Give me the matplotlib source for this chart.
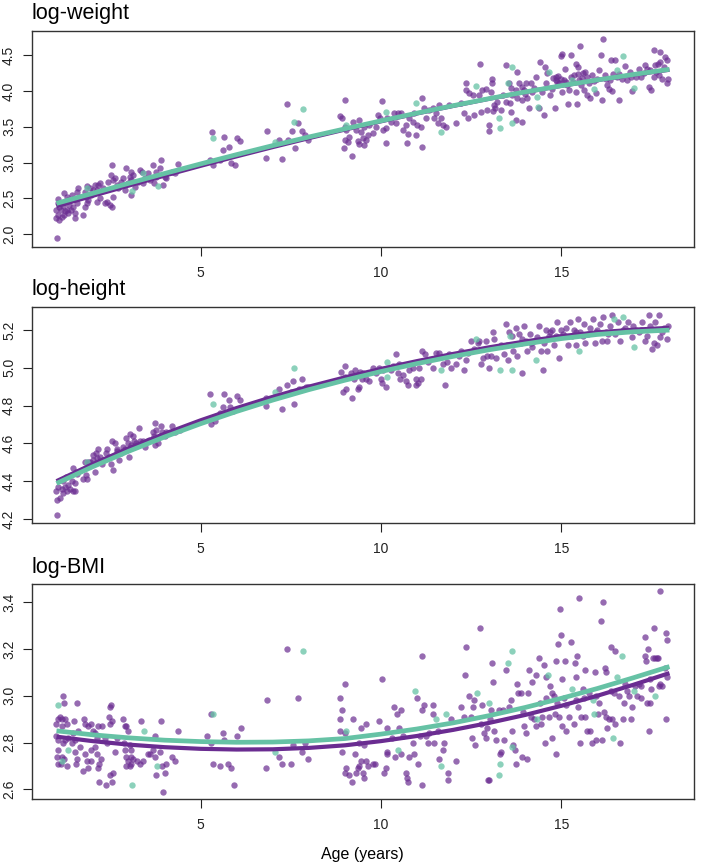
import numpy as np
import matplotlib
matplotlib.use("Agg")
import matplotlib.pyplot as plt

plt.rcParams['font.family'] = ['Liberation Sans', 'DejaVu Sans']

PURPLE = '#6A2C91'
GREEN = '#66C2A5'

# ---- data: (age, value) ----
# log-weight
wt_purple = [
    (1.02, 1.94), (1.05, 2.49), (1.03, 2.43), (1.08, 2.38), (1.00, 2.34), (1.13, 2.34), (1.05, 2.27),
    (0.99, 2.22), (1.08, 2.20), (1.14, 2.24), (1.20, 2.27), (1.24, 2.32), (1.28, 2.34), (1.17, 2.39),
    (1.22, 2.45), (1.20, 2.58), (1.28, 2.52), (1.33, 2.48), (1.36, 2.41), (1.31, 2.29), (1.40, 2.34),
    (1.45, 2.38), (1.51, 2.29), (1.47, 2.49), (1.42, 2.55), (1.51, 2.22), (1.56, 2.43), (1.60, 2.65),
    (1.56, 2.59), (1.65, 2.52), (1.74, 2.27), (1.79, 2.38), (1.81, 2.52), (1.84, 2.43), (1.88, 2.48),
    (1.79, 2.59), (1.84, 2.67), (1.93, 2.64), (1.97, 2.55), (2.02, 2.62), (2.07, 2.69), (2.11, 2.62),
    (2.16, 2.69), (2.21, 2.71), (2.11, 2.45), (2.21, 2.50), (2.30, 2.64), (2.34, 2.43), (2.39, 2.45),
    (2.44, 2.73), (2.48, 2.41), (2.55, 2.38), (2.57, 2.52), (2.51, 2.83), (2.53, 2.97), (2.57, 2.76),
    (2.62, 2.78), (2.67, 2.69), (2.71, 2.64), (2.80, 2.73), (2.85, 2.78), (2.90, 2.62), (2.94, 2.92),
    (2.99, 2.71), (3.04, 2.80), (3.06, 2.87), (3.08, 2.76), (3.06, 2.55), (3.13, 2.83), (3.17, 2.66),
    (3.27, 2.73), (3.31, 2.89), (3.36, 2.87), (3.40, 2.71), (3.45, 2.78), (3.54, 2.85), (3.59, 2.76),
    (3.68, 2.97), (3.71, 2.71), (3.75, 2.87), (3.77, 2.80), (3.87, 2.92), (3.91, 3.04), (3.96, 2.69),
    (4.00, 2.80), (4.05, 2.78), (4.19, 2.87), (4.28, 2.85), (4.37, 2.98),
    (5.25, 3.04), (5.30, 3.43), (5.34, 2.96), (5.53, 3.04), (5.62, 3.17), (5.64, 3.36), (5.78, 3.22),
    (5.85, 3.00), (5.94, 2.97), (6.00, 3.34), (6.10, 3.30),
    (6.84, 3.44), (6.82, 3.07), (7.25, 3.05), (7.39, 3.82), (7.54, 3.44), (7.71, 3.55), (7.81, 3.44),
    (7.88, 3.38), (7.97, 3.31), (7.17, 3.31), (7.42, 3.31), (7.62, 3.20),
    (8.85, 3.65), (8.92, 3.62), (9.00, 3.88), (9.01, 3.50), (9.03, 3.45), (8.99, 3.31), (8.97, 3.21),
    (9.12, 3.36), (9.08, 3.29), (9.20, 3.09), (9.23, 3.57), (9.31, 3.45), (9.35, 3.30), (9.40, 3.59),
    (9.45, 3.43), (9.49, 3.34), (9.54, 3.50), (9.58, 3.31), (9.63, 3.38), (9.54, 3.24), (9.40, 3.26),
    (9.68, 3.52), (9.79, 3.42), (9.86, 3.50), (9.93, 3.66), (9.97, 3.62), (10.03, 3.86), (10.05, 3.45),
    (10.14, 3.48), (10.14, 3.28), (10.18, 3.62), (10.28, 3.57), (10.37, 3.70), (10.41, 3.55),
    (10.46, 3.69), (10.55, 3.70), (10.60, 3.45), (10.69, 3.52), (10.71, 3.28), (10.74, 3.40),
    (10.78, 3.62), (10.88, 3.57), (10.92, 3.69), (10.97, 3.38), (11.01, 3.52), (11.11, 3.50),
    (11.15, 3.91), (11.13, 3.22), (11.20, 3.76), (11.25, 3.62), (11.34, 3.73), (11.43, 3.76),
    (11.48, 3.62), (11.52, 3.69), (11.57, 3.55), (11.61, 3.80), (11.66, 3.62), (11.71, 3.52),
    (11.80, 3.50), (11.89, 3.80), (12.08, 3.55),
    (12.21, 3.83), (12.31, 3.69), (12.35, 4.11), (12.35, 4.01), (12.40, 3.62), (12.44, 3.97),
    (12.54, 3.94), (12.58, 3.66), (12.72, 3.94), (12.74, 4.38), (12.77, 3.71), (12.81, 4.01),
    (12.91, 4.03), (12.95, 3.73), (13.00, 3.52), (13.00, 3.44), (13.04, 3.99), (13.07, 4.11),
    (13.09, 4.17), (13.12, 3.72), (13.14, 3.80), (13.16, 3.77), (13.23, 3.85), (13.32, 3.73),
    (13.37, 3.94), (13.46, 4.36), (13.48, 3.85), (13.55, 4.11), (13.57, 3.83), (13.60, 3.71),
    (13.64, 3.94), (13.74, 3.60), (13.78, 4.27), (13.78, 3.90), (13.83, 4.11), (13.92, 3.57),
    (13.92, 3.87), (13.97, 4.01), (14.01, 4.11), (14.06, 3.90), (14.10, 3.76), (14.15, 4.11),
    (14.20, 3.99), (14.29, 4.19), (14.38, 3.76), (14.40, 4.40), (14.47, 3.99), (14.52, 3.66),
    (14.54, 4.34), (14.57, 4.11), (14.61, 4.25), (14.70, 3.94), (14.75, 4.03), (14.82, 3.76),
    (14.84, 4.20), (14.89, 4.13), (14.94, 4.11), (14.98, 4.49), (15.01, 4.52), (15.03, 3.99),
    (15.07, 4.15), (15.10, 4.31), (15.17, 4.08), (15.21, 4.01), (15.19, 3.82), (15.26, 4.50),
    (15.35, 4.22), (15.40, 3.99), (15.41, 4.38), (15.44, 3.82), (15.47, 4.34), (15.51, 4.63),
    (15.54, 4.08), (15.58, 4.18), (15.63, 4.01), (15.66, 4.27), (15.72, 3.94), (15.77, 4.11),
    (15.81, 3.90), (15.86, 4.22), (15.95, 3.97), (16.00, 4.17), (16.04, 4.29), (16.09, 4.50),
    (16.12, 3.88), (16.15, 4.73), (16.23, 4.17), (16.27, 4.08), (16.32, 4.03), (16.37, 4.44),
    (16.41, 4.00), (16.43, 4.24), (16.50, 4.43), (16.60, 3.87), (16.61, 4.24), (16.69, 4.17),
    (16.78, 4.35), (16.83, 4.15), (16.92, 4.20), (16.95, 4.00), (17.06, 4.20), (17.15, 4.31),
    (17.20, 4.20), (17.32, 4.36), (17.38, 4.31), (17.43, 4.06), (17.50, 4.01), (17.56, 4.58),
    (17.56, 4.20), (17.61, 4.36), (17.68, 4.38), (17.75, 4.55), (17.75, 4.41), (17.80, 4.17),
    (17.89, 4.48), (17.93, 4.43), (17.93, 4.11), (17.96, 4.17),
    (14.78, 4.18), (14.86, 4.15), (14.92, 4.21), (15.00, 4.17), (15.12, 4.12), (15.28, 4.19),
    (15.33, 4.12), (15.45, 4.24), (15.50, 4.15), (15.60, 4.25), (15.70, 4.20), (15.90, 4.14),
    (16.20, 4.23), (16.35, 4.15), (16.55, 4.20), (16.90, 4.27), (17.30, 4.25), (17.45, 4.30),
    (17.62, 4.26), (17.70, 4.22), (17.85, 4.33), (13.90, 4.06), (14.00, 3.96), (14.25, 4.05),
    (13.75, 4.02), (13.60, 4.05),
]
wt_green = [
    (1.84, 2.65), (3.09, 2.60), (3.39, 2.85), (3.81, 2.67), (5.34, 3.34), (7.05, 3.29), (7.58, 3.57),
    (7.85, 3.75), (9.03, 3.52), (10.14, 3.71), (10.97, 3.83), (11.66, 3.43), (12.63, 4.07),
    (13.28, 3.62), (13.31, 3.49), (13.51, 4.11), (13.64, 4.33), (13.64, 3.55), (14.34, 3.92),
    (14.36, 3.78), (14.66, 4.27), (15.30, 4.15), (15.90, 4.03), (16.55, 4.29), (16.72, 4.49),
    (17.01, 4.04),
]

# log-height
ht_purple = [
    (1.02, 4.22), (1.01, 4.30), (1.10, 4.31), (0.99, 4.35), (1.05, 4.37), (1.14, 4.36), (1.19, 4.34),
    (1.24, 4.37), (1.19, 4.40), (1.28, 4.35), (1.33, 4.38), (1.26, 4.42), (1.37, 4.36), (1.42, 4.40),
    (1.47, 4.35), (1.45, 4.47), (1.51, 4.39), (1.54, 4.45), (1.58, 4.44), (1.51, 4.35), (1.74, 4.41),
    (1.79, 4.50), (1.82, 4.43), (1.85, 4.41), (1.88, 4.50), (1.93, 4.50), (2.00, 4.54), (2.02, 4.51),
    (2.07, 4.45), (2.09, 4.55), (2.11, 4.52), (2.16, 4.57), (2.19, 4.50), (2.20, 4.53), (2.25, 4.49),
    (2.30, 4.51), (2.37, 4.55), (2.41, 4.57), (2.46, 4.53), (2.50, 4.49), (2.53, 4.61), (2.57, 4.46),
    (2.62, 4.60), (2.67, 4.57), (2.68, 4.56), (2.74, 4.51), (2.80, 4.55), (2.85, 4.58), (2.90, 4.57),
    (2.94, 4.63), (2.99, 4.60), (3.02, 4.53), (3.05, 4.65), (3.08, 4.59), (3.13, 4.64), (3.15, 4.61),
    (3.20, 4.60), (3.29, 4.68), (3.31, 4.61), (3.39, 4.61), (3.45, 4.58), (3.50, 4.61), (3.57, 4.62),
    (3.68, 4.66), (3.70, 4.64), (3.73, 4.71), (3.73, 4.59), (3.77, 4.67), (3.82, 4.60), (3.87, 4.64),
    (3.91, 4.69), (3.94, 4.66), (4.00, 4.64), (4.05, 4.66), (4.19, 4.69), (4.28, 4.66), (4.42, 4.67),
    (5.27, 4.86), (5.29, 4.70), (5.39, 4.72), (5.53, 4.76), (5.64, 4.86), (5.62, 4.79), (5.78, 4.83),
    (5.80, 4.79), (5.89, 4.77), (6.00, 4.85), (6.10, 4.83),
    (6.82, 4.84), (6.82, 4.80), (7.17, 4.89), (7.26, 4.78), (7.39, 4.91), (7.55, 4.93), (7.60, 4.81),
    (7.51, 4.87), (7.72, 4.89), (7.81, 4.94), (7.91, 4.90), (7.97, 4.90),
    (8.89, 4.98), (8.99, 4.95), (9.01, 5.01), (8.94, 4.87), (9.03, 4.89), (9.17, 4.97), (9.20, 4.84),
    (9.26, 4.94), (9.29, 4.99), (9.35, 4.89), (9.40, 4.90), (9.42, 4.98), (9.47, 4.94), (9.51, 4.97),
    (9.58, 4.94), (9.66, 4.93), (9.77, 5.00), (9.86, 4.97), (9.95, 5.00), (10.00, 4.94),
    (10.05, 4.99), (10.03, 4.92), (10.14, 4.90), (10.28, 4.99), (10.34, 5.01), (10.42, 5.07),
    (10.46, 4.97), (10.51, 5.02), (10.53, 4.94), (10.60, 4.96), (10.69, 4.93), (10.74, 4.91),
    (10.78, 4.99), (10.88, 5.00), (10.97, 4.94), (10.97, 4.91), (11.02, 4.92), (11.06, 5.00),
    (11.11, 4.94), (11.15, 5.09), (11.23, 5.07), (11.29, 5.03), (11.45, 5.00), (11.52, 5.08),
    (11.62, 5.08), (11.71, 5.02), (11.78, 4.91), (11.82, 5.03), (11.89, 5.07), (11.94, 5.00),
    (12.08, 5.02), (12.17, 5.06), (12.21, 5.09), (12.31, 4.99), (12.35, 5.04), (12.40, 5.08),
    (12.49, 5.14), (12.58, 5.10), (12.68, 5.13), (12.72, 5.14), (12.77, 5.02), (12.83, 5.05),
    (12.91, 5.14), (13.00, 5.00), (12.95, 5.06), (13.04, 5.06), (13.11, 5.19), (13.14, 5.15),
    (13.18, 5.05), (13.32, 5.12), (13.41, 5.07), (13.46, 5.23), (13.51, 5.04), (13.55, 5.19),
    (13.63, 5.17), (13.66, 5.09), (13.74, 5.21), (13.78, 5.06), (13.83, 5.18), (13.87, 5.13),
    (13.92, 4.97), (13.97, 5.22), (14.01, 5.14), (14.06, 5.09), (14.12, 5.18), (14.20, 5.11),
    (14.24, 5.14), (14.34, 5.16), (14.38, 5.22), (14.43, 5.09), (14.49, 4.99), (14.52, 5.13),
    (14.57, 5.20), (14.61, 5.09), (14.66, 5.17), (14.75, 5.20), (14.80, 5.12), (14.84, 5.17),
    (14.89, 5.24), (14.94, 5.05), (14.98, 5.20), (15.05, 5.18), (15.12, 5.21), (15.19, 5.12),
    (15.23, 5.24), (15.29, 5.17), (15.35, 5.20), (15.42, 5.12), (15.47, 5.26), (15.53, 5.19),
    (15.63, 5.23), (15.67, 5.13), (15.75, 5.18), (15.81, 5.21), (15.88, 5.26), (15.93, 5.13),
    (16.00, 5.20), (16.06, 5.23), (16.12, 5.14), (16.15, 5.27), (16.23, 5.19), (16.27, 5.14),
    (16.34, 5.22), (16.41, 5.28), (16.50, 5.18), (16.58, 5.24), (16.64, 5.14), (16.78, 5.21),
    (16.85, 5.24), (16.95, 5.16), (17.06, 5.20), (17.15, 5.19), (17.24, 5.24), (17.32, 5.14),
    (17.38, 5.17), (17.43, 5.28), (17.47, 5.22), (17.52, 5.10), (17.57, 5.13), (17.61, 5.24),
    (17.66, 5.12), (17.70, 5.28), (17.75, 5.16), (17.84, 5.21), (17.93, 5.15), (17.96, 5.22),
    (14.70, 5.19), (14.90, 5.16), (15.10, 5.17), (15.40, 5.19), (15.60, 5.17), (15.95, 5.19),
    (16.30, 5.18), (16.70, 5.20), (17.00, 5.22), (17.20, 5.20), (17.80, 5.19), (13.90, 5.15),
    (14.15, 5.13), (13.50, 5.12),
]
ht_green = [
    (1.85, 4.50), (5.34, 4.81), (7.05, 4.87), (7.58, 5.00), (10.16, 5.03), (10.18, 4.95),
    (11.66, 4.99), (12.63, 5.15), (13.29, 4.99), (13.57, 5.17), (13.64, 4.99), (14.29, 5.04),
    (15.49, 5.09), (16.46, 5.26), (16.71, 5.27), (17.01, 5.11),
]

# log-BMI
bmi_purple = [
    (1.19, 3.00), (1.21, 2.97), (1.58, 2.97), (1.03, 2.90), (1.00, 2.88), (1.10, 2.91), (1.16, 2.90),
    (1.24, 2.90), (1.28, 2.88), (1.14, 2.87), (1.00, 2.83), (1.05, 2.81), (1.19, 2.80), (1.24, 2.81),
    (1.33, 2.82), (1.42, 2.80), (1.51, 2.81), (1.47, 2.84), (1.60, 2.85), (1.49, 2.89), (1.05, 2.77),
    (1.14, 2.74), (1.02, 2.74), (1.03, 2.71), (1.13, 2.71), (1.28, 2.70), (1.22, 2.73), (1.51, 2.76),
    (1.53, 2.71), (1.56, 2.73), (1.65, 2.78), (1.74, 2.68), (1.79, 2.75), (1.84, 2.72), (1.86, 2.69),
    (1.97, 2.77), (1.97, 2.72), (2.07, 2.78), (2.11, 2.75), (2.14, 2.69), (2.18, 2.71), (2.23, 2.73),
    (1.77, 2.90), (1.79, 2.88), (1.86, 2.87), (1.96, 2.88), (2.02, 2.85), (2.07, 2.84), (2.11, 2.82),
    (2.16, 2.87), (2.25, 2.87), (2.34, 2.82), (2.45, 2.91), (2.48, 2.95), (2.51, 2.96), (2.48, 2.88),
    (2.53, 2.89), (2.39, 2.80), (2.62, 2.76), (2.67, 2.82), (2.18, 2.63), (2.37, 2.62), (2.48, 2.66),
    (2.55, 2.63), (2.57, 2.67), (2.85, 2.90), (2.90, 2.87), (2.94, 2.87), (2.99, 2.85), (2.88, 2.80),
    (2.90, 2.77), (3.04, 2.79), (3.06, 2.77), (3.08, 2.74), (2.94, 2.74), (2.99, 2.72), (3.04, 2.70),
    (2.94, 2.70), (3.08, 2.71), (3.13, 2.73), (3.22, 2.72), (3.31, 2.71), (3.40, 2.72), (3.34, 2.89),
    (3.54, 2.75), (3.59, 2.75), (3.68, 2.77), (3.73, 2.83), (3.73, 2.74), (3.77, 2.66), (3.86, 2.76),
    (3.91, 2.89), (4.00, 2.67), (4.05, 2.71), (3.96, 2.59), (4.19, 2.74), (4.28, 2.72), (4.37, 2.85),
    (3.93, 2.70),
    (5.18, 2.83), (5.28, 2.92), (5.29, 2.80), (5.34, 2.71), (5.53, 2.70), (5.62, 2.84), (5.65, 2.81),
    (5.77, 2.71), (5.83, 2.69), (5.92, 2.62), (6.01, 2.83), (6.11, 2.86),
    (6.84, 2.98), (6.82, 2.69), (7.17, 2.74), (7.25, 2.71), (7.40, 3.20), (7.51, 2.71), (7.56, 2.79),
    (7.71, 2.99), (7.81, 2.76), (7.88, 2.80), (7.97, 2.73),
    (8.85, 2.99), (8.92, 2.94), (9.00, 3.05), (8.87, 2.90), (8.85, 2.85), (9.01, 2.84), (8.92, 2.76),
    (9.23, 2.90), (9.29, 2.75), (9.03, 2.69), (9.01, 2.67), (9.12, 2.66), (9.20, 2.63), (9.31, 2.67),
    (9.35, 2.69), (9.40, 2.70), (9.45, 2.72), (9.49, 2.67), (9.54, 2.65), (9.58, 2.72), (9.40, 2.80),
    (9.45, 2.86), (9.58, 2.88), (9.54, 2.79), (9.63, 2.70), (9.77, 2.71), (9.84, 2.71), (9.95, 2.89),
    (10.03, 3.07), (10.09, 2.67), (10.14, 2.69), (10.16, 2.76), (10.16, 2.75), (10.18, 2.86),
    (10.30, 2.82), (10.35, 2.95), (10.40, 2.74), (10.44, 2.92), (10.51, 2.86), (10.55, 2.94),
    (10.55, 2.75), (10.60, 2.83), (10.69, 2.67), (10.71, 2.65), (10.74, 2.63), (10.77, 2.74),
    (10.88, 2.80), (10.92, 2.75), (11.01, 2.99), (11.04, 2.71), (11.08, 2.83), (11.13, 2.62),
    (11.15, 3.17), (11.15, 2.94), (11.20, 2.96), (11.25, 2.83), (11.29, 2.80), (11.34, 2.84),
    (11.43, 2.96), (11.45, 2.92), (11.48, 2.80), (11.57, 2.85), (11.61, 2.73), (11.71, 2.77),
    (11.75, 2.80), (11.85, 2.67), (11.87, 2.64), (11.94, 2.90), (12.08, 2.72),
    (12.21, 2.95), (12.31, 2.91), (12.37, 3.21), (12.33, 3.09), (12.44, 3.00), (12.49, 2.91),
    (12.52, 2.82), (12.56, 2.95), (12.58, 2.98), (12.61, 2.79), (12.74, 3.29), (12.77, 2.88),
    (12.81, 2.96), (12.86, 2.84), (12.92, 2.82), (12.95, 2.86), (13.02, 2.90), (13.04, 2.94),
    (13.09, 3.14), (13.12, 3.06), (13.14, 2.85), (13.18, 2.81), (13.26, 2.94), (13.29, 2.75),
    (13.32, 2.76), (13.37, 2.94), (13.41, 2.81), (13.46, 3.11), (13.55, 2.95), (13.60, 2.98),
    (13.63, 2.85), (13.66, 2.79), (13.72, 2.77), (13.75, 2.71), (13.78, 3.05), (13.81, 3.01),
    (13.87, 3.01), (13.90, 2.74), (13.94, 2.93), (13.97, 2.87), (14.01, 2.84), (14.06, 2.73),
    (14.09, 3.01), (14.10, 3.11), (14.15, 2.91), (14.18, 3.06), (14.24, 2.90), (14.29, 2.87),
    (14.31, 3.09), (14.38, 3.16), (14.40, 2.97), (14.43, 2.88), (14.47, 2.91), (14.52, 3.13),
    (14.55, 2.80), (14.57, 2.99), (14.59, 3.08), (14.66, 2.91), (14.68, 3.04), (14.73, 2.82),
    (14.75, 3.01), (14.80, 3.00), (14.82, 2.92), (14.84, 2.75), (14.86, 3.15), (14.89, 2.97),
    (14.92, 3.22), (14.94, 2.91), (14.96, 3.37), (14.98, 3.26), (15.01, 2.87), (15.03, 3.07),
    (15.07, 2.99), (15.10, 3.15), (15.12, 2.85), (15.14, 2.96), (15.21, 2.91), (15.26, 3.23),
    (15.35, 2.88), (15.38, 3.14), (15.40, 3.08), (15.41, 2.98), (15.44, 3.17), (15.47, 2.95),
    (15.49, 3.42), (15.51, 2.80), (15.56, 2.91), (15.60, 3.03), (15.63, 2.99), (15.66, 3.11),
    (15.67, 2.91), (15.72, 2.85), (15.78, 3.01), (15.81, 2.85), (15.86, 2.80), (15.93, 3.10),
    (15.95, 2.81), (15.97, 3.00), (16.02, 2.92), (16.04, 2.97), (16.09, 3.32), (16.12, 2.81),
    (16.15, 3.40), (16.18, 2.93), (16.21, 3.12), (16.23, 2.91), (16.25, 3.10), (16.27, 2.86),
    (16.32, 2.90), (16.37, 3.02), (16.39, 3.21), (16.41, 2.90), (16.46, 3.01), (16.48, 3.19),
    (16.50, 2.88), (16.60, 3.00), (16.64, 2.80), (16.71, 2.90), (16.73, 2.97), (16.78, 3.05),
    (16.83, 3.02), (16.87, 3.00), (16.92, 2.90), (16.97, 2.95), (17.04, 3.04), (17.10, 3.00),
    (17.15, 3.05), (17.20, 3.04), (17.22, 2.99), (17.32, 3.25), (17.33, 3.17), (17.35, 3.15),
    (17.38, 2.97), (17.41, 3.20), (17.43, 2.85), (17.45, 3.07), (17.47, 2.97), (17.50, 3.03),
    (17.54, 3.16), (17.57, 3.29), (17.61, 3.16), (17.66, 3.16), (17.68, 3.16), (17.70, 3.04),
    (17.75, 3.45), (17.75, 3.05), (17.79, 3.04), (17.87, 3.12), (17.91, 3.27), (17.93, 3.24),
    (17.93, 3.08), (17.91, 2.90), (12.98, 2.64), (13.00, 2.64),
]
bmi_green = [
    (1.05, 2.96), (1.31, 2.77), (1.16, 2.72), (3.43, 2.85), (3.80, 2.70), (3.10, 2.62), (5.34, 2.92),
    (7.05, 2.76), (7.85, 3.19), (9.03, 2.85), (10.46, 2.77), (10.94, 3.02), (11.52, 2.90),
    (11.66, 2.70), (11.80, 2.92), (12.65, 3.01), (13.00, 2.97), (13.29, 2.71), (13.27, 2.66),
    (13.51, 3.14), (13.64, 3.19), (13.64, 2.78), (14.34, 2.90), (14.64, 3.09), (15.30, 3.03),
    (15.88, 2.98), (15.90, 2.92), (16.43, 2.82), (16.55, 3.08), (16.69, 3.17), (17.01, 3.02),
    (17.59, 3.00),
]

# fitted curves, read at each whole year of age
curve_age = [1, 2, 3, 4, 5, 6, 7, 8, 9, 10, 11, 12, 13, 14, 15, 16, 17, 18]
wt_fit_purple = [2.390, 2.535, 2.678, 2.818, 2.955, 3.088, 3.217, 3.342, 3.462, 3.577, 3.687,
                 3.792, 3.892, 3.986, 4.073, 4.153, 4.228, 4.298]
wt_fit_green = [2.430, 2.570, 2.710, 2.848, 2.982, 3.112, 3.238, 3.358, 3.472, 3.584, 3.692,
                3.796, 3.895, 3.988, 4.075, 4.156, 4.232, 4.304]
ht_fit_purple = [4.400, 4.490, 4.574, 4.651, 4.722, 4.787, 4.846, 4.900, 4.949, 4.994, 5.035,
                 5.073, 5.108, 5.139, 5.167, 5.187, 5.201, 5.211]
ht_fit_green = [4.388, 4.476, 4.558, 4.634, 4.704, 4.769, 4.829, 4.884, 4.934, 4.980, 5.022,
                5.060, 5.095, 5.126, 5.154, 5.176, 5.190, 5.199]
bmi_fit_purple = [2.825, 2.806, 2.791, 2.780, 2.773, 2.770, 2.771, 2.777, 2.788, 2.806, 2.828,
                  2.854, 2.884, 2.918, 2.957, 3.000, 3.047, 3.097]
bmi_fit_green = [2.850, 2.833, 2.820, 2.810, 2.804, 2.801, 2.802, 2.807, 2.817, 2.836, 2.858,
                 2.884, 2.915, 2.950, 2.989, 3.031, 3.077, 3.125]

panels = [
    ('log-weight', wt_purple, wt_green, wt_fit_purple, wt_fit_green,
     (1.82, 4.84), [2.0, 2.5, 3.0, 3.5, 4.0, 4.5]),
    ('log-height', ht_purple, ht_green, ht_fit_purple, ht_fit_green,
     (4.177, 5.323), [4.2, 4.4, 4.6, 4.8, 5.0, 5.2]),
    ('log-BMI', bmi_purple, bmi_green, bmi_fit_purple, bmi_fit_green,
     (2.557, 3.478), [2.6, 2.8, 3.0, 3.2, 3.4]),
]
positions = [
    [0.0451, 0.7148, 0.9337, 0.2494],
    [0.0451, 0.3957, 0.9337, 0.2502],
    [0.0451, 0.0770, 0.9337, 0.2486],
]

fig = plt.figure(figsize=(7.09, 8.66), dpi=100)

for (title, pur, grn, fp, fg, ylim, yticks), pos in zip(panels, positions):
    ax = fig.add_axes(pos)
    p = np.array(pur)
    g = np.array(grn)
    ax.scatter(p[:, 0], p[:, 1], s=21, color=PURPLE, alpha=0.7, linewidths=0, zorder=2)
    ax.scatter(g[:, 0], g[:, 1], s=21, color=GREEN, alpha=0.75, linewidths=0, zorder=3)
    ax.plot(curve_age, fp, color=PURPLE, lw=3.0, solid_capstyle='butt', solid_joinstyle='round', zorder=4)
    ax.plot(curve_age, fg, color=GREEN, lw=3.4, solid_capstyle='butt', solid_joinstyle='round', zorder=5)

    ax.set_xlim(0.32, 18.68)
    ax.set_ylim(*ylim)
    ax.set_xticks([5, 10, 15])
    ax.set_yticks(yticks)
    ax.set_yticklabels([f'{t:.1f}' for t in yticks], rotation=90, va='center')
    ax.tick_params(axis='both', direction='out', length=6.5, width=0.8, labelsize=10, colors='#222222')
    ax.tick_params(axis='x', pad=7)
    ax.tick_params(axis='y', pad=5)
    for sp in ax.spines.values():
        sp.set_linewidth(1.0)
        sp.set_color('#333333')
    ax.annotate(title, xy=(0, 1), xycoords='axes fraction', xytext=(0, 8.3),
                textcoords='offset points', ha='left', va='baseline', fontsize=15.5)

fig.text(362 / 709, 1 - 855 / 866, 'Age (years)', ha='center', va='center', fontsize=11.5)

fig.savefig('out.png', dpi=100)
